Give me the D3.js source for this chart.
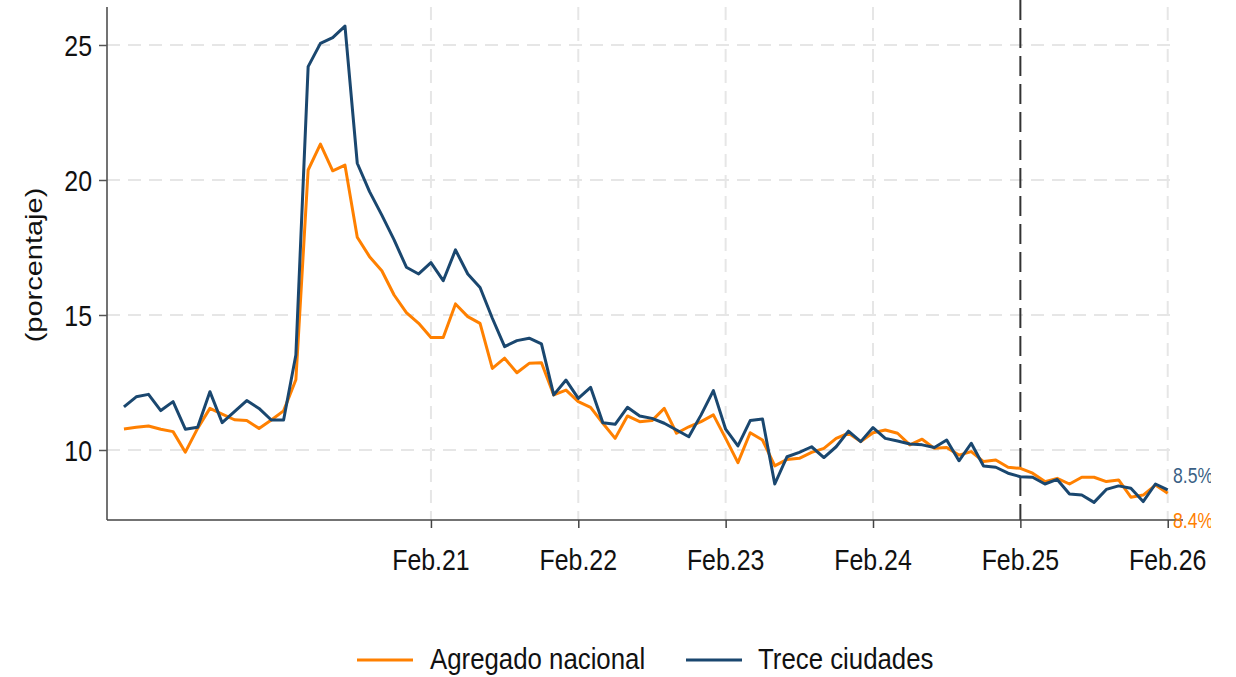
<!DOCTYPE html>
<html>
<head>
<meta charset="utf-8">
<script src="https://cdn.jsdelivr.net/npm/d3@7"></script>
<style>
  html, body { margin: 0; padding: 0; background: #fff; }
  svg { display: block; }
  text { font-family: "Liberation Sans", Arial, sans-serif; fill: #111; }
</style>
</head>
<body>
<svg id="chart" width="1236" height="677"></svg>
<script>
// Monthly series, Jan 2019 .. Feb 2026
const nacional = [
  10.78, 10.84, 10.89, 10.77, 10.68, 9.92, 10.80, 11.54, 11.33, 11.12, 11.09, 10.80,
  11.11, 11.45, 12.60, 20.37, 21.33, 20.34, 20.55, 17.88, 17.16, 16.64, 15.74, 15.09,
  14.69, 14.17, 14.17, 15.41, 14.94, 14.69, 13.02, 13.40, 12.86, 13.21, 13.23, 12.04,
  12.22, 11.79, 11.58, 10.99, 10.43, 11.26, 11.05, 11.09, 11.54, 10.62, 10.86, 11.05,
  11.30, 10.43, 9.53, 10.64, 10.37, 9.41, 9.65, 9.69, 9.91, 10.06, 10.43, 10.62,
  10.31, 10.64, 10.74, 10.62, 10.19, 10.40, 10.06, 10.09, 9.81, 9.94, 9.57, 9.63,
  9.36, 9.32, 9.14, 8.83, 8.95, 8.74, 8.99, 8.99, 8.83, 8.89, 8.25, 8.33,
  8.70, 8.40
];
const trece = [
  11.60, 11.97, 12.06, 11.46, 11.79, 10.77, 10.84, 12.16, 11.01, 11.42, 11.83, 11.54,
  11.11, 11.11, 13.52, 24.20, 25.06, 25.27, 25.70, 20.62, 19.57, 18.70, 17.78, 16.77,
  16.52, 16.94, 16.27, 17.41, 16.52, 16.02, 14.88, 13.83, 14.05, 14.14, 13.93, 12.04,
  12.59, 11.91, 12.32, 11.01, 10.95, 11.58, 11.26, 11.17, 10.99, 10.74, 10.49, 11.30,
  12.20, 10.77, 10.15, 11.09, 11.15, 8.74, 9.75, 9.91, 10.12, 9.72, 10.12, 10.70,
  10.31, 10.83, 10.43, 10.33, 10.22, 10.19, 10.09, 10.37, 9.60, 10.25, 9.41, 9.36,
  9.14, 9.01, 8.99, 8.74, 8.91, 8.37, 8.33, 8.06, 8.54, 8.67, 8.58, 8.09,
  8.74, 8.52
];
const xTickIdx = [25, 37, 49, 61, 73, 85];
const xTickLabels = ["Feb.21", "Feb.22", "Feb.23", "Feb.24", "Feb.25", "Feb.26"];
const yTicks = [10, 15, 20, 25];
const markerIdx = 73; // Feb.25 vertical line
const seriesNames = ["Agregado nacional", "Trece ciudades"];
const seriesColors = ["#ff8000", "#1a476f"];
const endLabels = ["8.4%", "8.5%"];

(function () {
const SX = 0.83; // horizontal text squeeze seen in the reference
const svg = d3.select("#chart");
const pL = 107, pR = 1180, pT = 7, pB = 520;

const x = d3.scaleLinear().domain([-1.38, 86]).range([pL, pR]);
const y = d3.scaleLinear().domain([7.407, 26.407]).range([pB, pT]);

function sqText(g, tx, ty, str, size, anchor, color, sx) {
  return g.append("text")
    .attr("transform", `translate(${tx},${ty}) scale(${sx || SX},1)`)
    .attr("text-anchor", anchor || "start")
    .style("font-size", size + "px")
    .style("fill", color || "#111")
    .text(str);
}

// gridlines
const grid = svg.append("g");
grid.selectAll("line.h").data(yTicks).enter().append("line")
  .attr("x1", pL).attr("x2", pR - 2)
  .attr("y1", d => y(d)).attr("y2", d => y(d))
  .attr("stroke", "#e6e6e6").attr("stroke-width", 2).attr("stroke-dasharray", "13,8");
grid.selectAll("line.v").data(xTickIdx.filter(d => d !== markerIdx)).enter().append("line")
  .attr("x1", d => x(d)).attr("x2", d => x(d))
  .attr("y1", pT).attr("y2", pB)
  .attr("stroke", "#e6e6e6").attr("stroke-width", 2).attr("stroke-dasharray", "13,8");

// Feb.25 marker
svg.append("line")
  .attr("x1", x(markerIdx)).attr("x2", x(markerIdx))
  .attr("y1", 0).attr("y2", pB)
  .attr("stroke", "#333").attr("stroke-width", 2).attr("stroke-dasharray", "20,8");

// lines
const line = d3.line().x((d, i) => x(i)).y(d => y(d));
svg.append("defs").append("clipPath").attr("id", "clipR")
  .append("rect").attr("x", 0).attr("y", 0).attr("width", 1211).attr("height", 677);

[nacional, trece].forEach((s, k) => {
  svg.append("path").datum(s)
    .attr("d", line)
    .attr("fill", "none")
    .attr("stroke", seriesColors[k])
    .attr("stroke-width", 3)
    .attr("stroke-linejoin", "round");
});

// axes
const yAxis = svg.append("g").attr("transform", `translate(${pL},0)`)
  .call(d3.axisLeft(y).tickValues(yTicks).tickSize(8).tickFormat(""));
yAxis.select(".domain").attr("d", `M0,${pT}V${pB}`).attr("stroke", "#444").attr("stroke-width", 1.5);
yAxis.selectAll(".tick line").attr("stroke", "#555").attr("stroke-width", 1.5);
yTicks.forEach(t => sqText(svg, 92, y(t) + 11, String(t), 30, "end"));

const xAxis = svg.append("g").attr("transform", `translate(0,${pB})`)
  .call(d3.axisBottom(x).tickValues(xTickIdx).tickSize(8).tickFormat(""));
xAxis.select(".domain").attr("d", `M${pL},0H${pR + 3}`).attr("stroke", "#444").attr("stroke-width", 1.5);
xAxis.selectAll(".tick line").attr("stroke", "#444").attr("stroke-width", 1.5);
xTickIdx.forEach((t, i) => sqText(svg, x(t), 570, xTickLabels[i], 30, "middle"));

// y title
svg.append("text")
  .attr("transform", `translate(42,265) rotate(-90) scale(1,${SX})`)
  .attr("text-anchor", "middle")
  .style("font-size", "29px")
  .text("(porcentaje)");

// end labels
const endG = svg.append("g").attr("clip-path", "url(#clipR)");
sqText(endG, 1173, 528, endLabels[0], 22, "start", seriesColors[0], 0.8);
sqText(endG, 1173, 483, endLabels[1], 22, "start", "#3a5f85", 0.8);

// legend
const lg = svg.append("g");
const legX = [357, 686], legTX = [430, 758];
seriesNames.forEach((n, k) => {
  lg.append("line").attr("x1", legX[k]).attr("x2", legX[k] + 56)
    .attr("y1", 660).attr("y2", 660)
    .attr("stroke", seriesColors[k]).attr("stroke-width", 3);
  sqText(lg, legTX[k], 669, n, 29, "start", "#111", 0.89);
});
})();
</script>
</body>
</html>
